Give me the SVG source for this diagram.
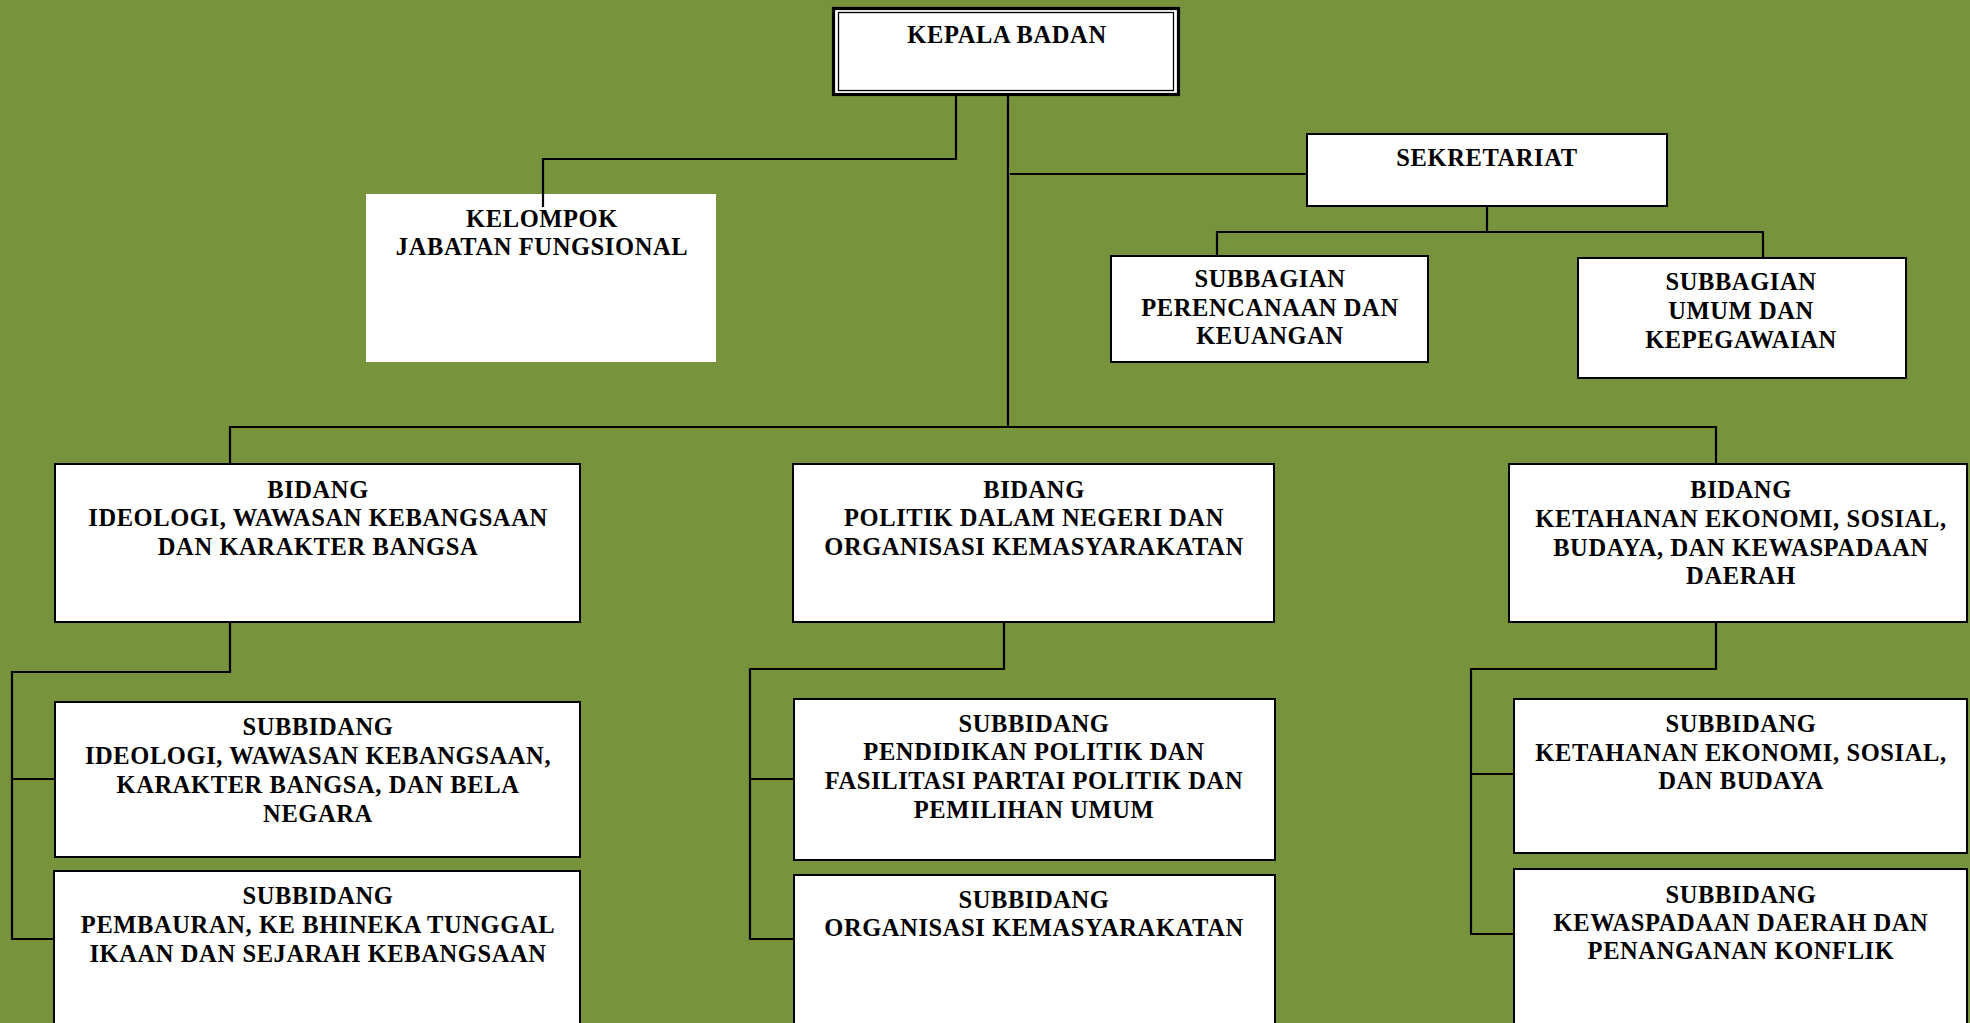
<svg xmlns="http://www.w3.org/2000/svg" width="1970" height="1023" viewBox="0 0 1970 1023">
<style>
.box{fill:#fff;stroke:#000;stroke-width:2}
.plain{fill:#fff;stroke:none}
.conn{fill:none;stroke:#000;stroke-width:2.2}
text{font-family:"Liberation Serif","Times New Roman",serif;font-weight:bold;font-size:24.5px;letter-spacing:0.6px;fill:#000;text-anchor:middle}
</style>
<rect x="0" y="0" width="1970" height="1023" fill="#77933C"/>
<g id="connectors">
<path class="conn" d="M956,96 V159 H543 V207"/>
<path class="conn" d="M1008,96 V427"/>
<path class="conn" d="M1010,174 H1307"/>
<path class="conn" d="M1487,206 V232"/>
<path class="conn" d="M1217,256 V232 H1763 V258"/>
<path class="conn" d="M230,464 V427 H1716 V464"/>
<path class="conn" d="M230,622 V672 H12 V939 H55"/>
<path class="conn" d="M12,779 H55"/>
<path class="conn" d="M1004,622 V669 H750 V939 H794"/>
<path class="conn" d="M750,779 H794"/>
<path class="conn" d="M1716,622 V669 H1471 V934 H1514"/>
<path class="conn" d="M1471,774 H1514"/>
</g>
<g id="kepala">
<rect x="833.5" y="8.5" width="345" height="86" fill="#fff" stroke="#000" stroke-width="3.2"/>
<rect x="838.5" y="12.5" width="335" height="78" fill="none" stroke="#000" stroke-width="1.3"/>
<text x="1007" y="43">KEPALA BADAN</text>
</g>
<g id="kelompok">
<rect class="plain" x="366" y="194" width="350" height="168"/>
<path class="conn" d="M543,192 V207"/>
<text x="542" y="227">KELOMPOK</text>
<text x="542" y="255">JABATAN FUNGSIONAL</text>
</g>
<g id="sekretariat">
<rect class="box" x="1307" y="134" width="360" height="72"/>
<text x="1487" y="166">SEKRETARIAT</text>
</g>
<g id="subbag-perencanaan">
<rect class="box" x="1111" y="256" width="317" height="106"/>
<text x="1270" y="287">SUBBAGIAN</text>
<text x="1270" y="316">PERENCANAAN DAN</text>
<text x="1270" y="344">KEUANGAN</text>
</g>
<g id="subbag-umum">
<rect class="box" x="1578" y="258" width="328" height="120"/>
<text x="1741" y="290">SUBBAGIAN</text>
<text x="1741" y="319">UMUM DAN</text>
<text x="1741" y="348">KEPEGAWAIAN</text>
</g>
<g id="bidang-ideologi">
<rect class="box" x="55" y="464" width="525" height="158"/>
<text x="318" y="498">BIDANG</text>
<text x="318" y="526">IDEOLOGI, WAWASAN KEBANGSAAN</text>
<text x="318" y="555">DAN KARAKTER BANGSA</text>
</g>
<g id="bidang-politik">
<rect class="box" x="793" y="464" width="481" height="158"/>
<text x="1034" y="498">BIDANG</text>
<text x="1034" y="526">POLITIK DALAM NEGERI DAN</text>
<text x="1034" y="555">ORGANISASI KEMASYARAKATAN</text>
</g>
<g id="bidang-ketahanan">
<rect class="box" x="1509" y="464" width="458" height="158"/>
<text x="1741" y="498">BIDANG</text>
<text x="1741" y="527">KETAHANAN EKONOMI, SOSIAL,</text>
<text x="1741" y="556">BUDAYA, DAN KEWASPADAAN</text>
<text x="1741" y="584">DAERAH</text>
</g>
<g id="subbidang-ideologi">
<rect class="box" x="55" y="702" width="525" height="155"/>
<text x="318" y="735">SUBBIDANG</text>
<text x="318" y="764">IDEOLOGI, WAWASAN KEBANGSAAN,</text>
<text x="318" y="793">KARAKTER BANGSA, DAN BELA</text>
<text x="318" y="822">NEGARA</text>
</g>
<g id="subbidang-pembauran">
<rect class="box" x="54" y="871" width="526" height="165"/>
<text x="318" y="904">SUBBIDANG</text>
<text x="318" y="933">PEMBAURAN, KE BHINEKA TUNGGAL</text>
<text x="318" y="962">IKAAN DAN SEJARAH KEBANGSAAN</text>
</g>
<g id="subbidang-pendidikan">
<rect class="box" x="794" y="699" width="481" height="161"/>
<text x="1034" y="732">SUBBIDANG</text>
<text x="1034" y="760">PENDIDIKAN POLITIK DAN</text>
<text x="1034" y="789">FASILITASI PARTAI POLITIK DAN</text>
<text x="1034" y="818">PEMILIHAN UMUM</text>
</g>
<g id="subbidang-ormas">
<rect class="box" x="794" y="875" width="481" height="161"/>
<text x="1034" y="908">SUBBIDANG</text>
<text x="1034" y="936">ORGANISASI KEMASYARAKATAN</text>
</g>
<g id="subbidang-ketahanan">
<rect class="box" x="1514" y="699" width="453" height="154"/>
<text x="1741" y="732">SUBBIDANG</text>
<text x="1741" y="761">KETAHANAN EKONOMI, SOSIAL,</text>
<text x="1741" y="789">DAN BUDAYA</text>
</g>
<g id="subbidang-kewaspadaan">
<rect class="box" x="1514" y="869" width="453" height="167"/>
<text x="1741" y="903">SUBBIDANG</text>
<text x="1741" y="931">KEWASPADAAN DAERAH DAN</text>
<text x="1741" y="959">PENANGANAN KONFLIK</text>
</g>
</svg>
